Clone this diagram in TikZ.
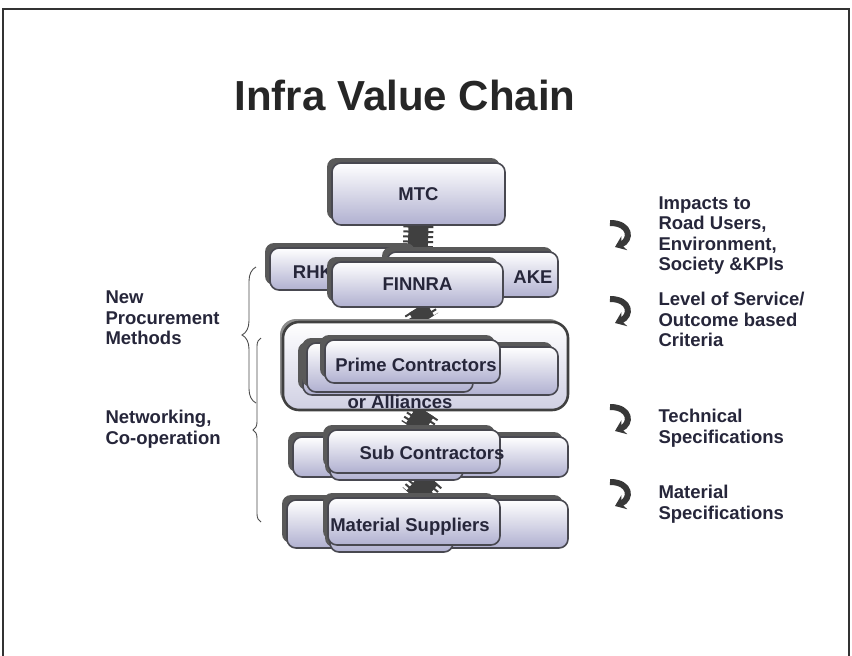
\documentclass[tikz,border=0pt]{standalone}
\usepackage{fontspec}
\setmainfont{Liberation Sans}
\usetikzlibrary{positioning,shadows,backgrounds,decorations.pathreplacing,arrows.meta}

\definecolor{boxlav}{RGB}{176,176,208}
\definecolor{txtnavy}{RGB}{38,38,58}
\definecolor{edgegray}{RGB}{72,72,80}

\tikzset{
  box/.style={draw=edgegray, line width=1.6pt, rounded corners=9pt,
    top color=white, bottom color=boxlav, inner sep=0pt,
    general shadow={fill=black!65, shadow xshift=-5pt, shadow yshift=5pt}},
  outerbox/.style={draw=black!75, line width=2.6pt, rounded corners=16pt,
    top color=white, bottom color=boxlav!60, inner sep=0pt,
    general shadow={fill=black!45, shadow xshift=-3pt, shadow yshift=3pt}},
  lbl/.style={text=txtnavy, font=\fontsize{18.5}{20.5}\selectfont\bfseries},
  sidetxt/.style={lbl, align=left, anchor=west},
  bolt/.style={line width=20pt, draw=black!75,
    postaction={draw=black!75, line width=30pt, dash pattern=on 2pt off 3pt}},
  brc/.style={decorate, draw=black!70, line width=0.9pt},
  curvarr/.style={draw=black!78, line width=6pt, -{Stealth[length=10pt,width=15pt]}}
}

\begin{document}
\begin{tikzpicture}[x=1pt,y=-1pt]
  \useasboundingbox (0,0) rectangle (852,656);

  % frame and title
  \draw[black!80, line width=1.5pt] (3,660) -- (3,9) -- (849,9) -- (849,660);
  \node[font=\fontsize{42}{46}\selectfont\bfseries, text=black!85] (title) at (405,95) {Infra Value Chain};

  % chain of boxes
  \node[box, minimum width=173pt, minimum height=62pt, lbl] (mtc) at (418.5,194) {MTC};

  \node[box, minimum width=150pt, minimum height=42pt] (rhk) at (345,269) {};
  \node[box, minimum width=171pt, minimum height=45pt] (ake) at (472.5,274.5) {};
  \node[lbl] (rhktxt) at (313,272) {RHK};
  \node[lbl] (aketxt) at (533,277) {AKE};
  \node[box, minimum width=171pt, minimum height=45pt, lbl] (finnra) at (417.5,284.5) {FINNRA};

  \node[outerbox, minimum width=285pt, minimum height=88pt] (primeouter) at (425.5,366) {};
  \node[box, minimum width=255pt, minimum height=48pt] (primeback) at (430.5,371) {};
  \node[box, minimum width=166pt, minimum height=49pt] (primemid) at (390,367.5) {};
  \node[box, minimum width=175pt, minimum height=43pt] (prime) at (412.5,361.5) {};
  \node[lbl] (primetxt) at (416,365) {Prime Contractors};
  \node[lbl] (alliance) at (400,402) {or Alliances};

  \node[box, minimum width=275pt, minimum height=40pt] (subback) at (430.5,457) {};
  \node[box, minimum width=133pt, minimum height=40pt] (submid) at (396.5,460) {};
  \node[box, minimum width=172pt, minimum height=43pt] (sub) at (414,451.5) {};
  \node[lbl] (subtxt) at (432,453) {Sub Contractors};

  \node[box, minimum width=281pt, minimum height=48pt] (matback) at (427.5,524) {};
  \node[box, minimum width=123pt, minimum height=47pt] (matmid) at (391.5,528.5) {};
  \node[box, minimum width=172pt, minimum height=47pt] (mat) at (414,521.5) {};
  \node[lbl] (mattxt) at (410,527) {Material Suppliers};

  % joints between the levels
  \begin{pgfonlayer}{background}
    \fill[white] (0,0) rectangle (852,656);
    \draw[bolt] (mtc.south) -- (finnra.north);
    \draw[bolt] (finnra.south) -- (primeouter.north);
    \draw[bolt] (primeouter.south) -- (sub.north);
    \draw[bolt] (subback.south) -- (mat.north);
  \end{pgfonlayer}

  % left side
  \node[sidetxt] (newproc) at (102,318) {New\\Procurement\\Methods};
  \node[sidetxt] (network) at (102,429) {Networking,\\Co-operation};
  \draw[brc, decoration={brace, amplitude=14pt}] (256,403) -- (256,267);
  \draw[brc, decoration={brace, amplitude=8pt}] (261,522) -- (261,338);

  % right side
  \node[sidetxt] (impacts) at (655,235.5) {Impacts to\\Road Users,\\Environment,\\Society \&KPIs};
  \node[sidetxt] (service) at (655,319.5) {Level of Service/\\Outcome based\\Criteria};
  \node[sidetxt] (techspec) at (655,428) {Technical\\Specifications};
  \node[sidetxt] (matspec) at (655,504) {Material\\Specifications};
  \foreach \y in {236,312,420,495}
    \draw[curvarr] (610,\y-13) .. controls (631,\y-13) and (632,\y+4) .. (615,\y+11);
\end{tikzpicture}
\end{document}
